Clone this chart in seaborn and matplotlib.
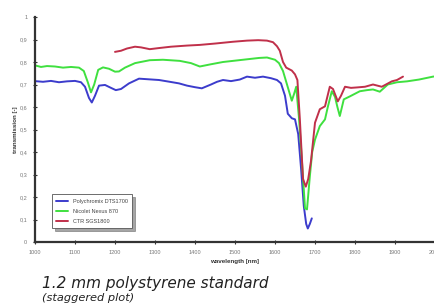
import numpy as np
import pandas as pd
import seaborn as sns
import matplotlib
matplotlib.use('Agg')
import matplotlib.pyplot as plt

# Polychromix DTS1700
blue_wl = [1000, 1020, 1040, 1060, 1080, 1100, 1115, 1125, 1135, 1142, 1150, 1160, 1175, 1190,
           1202, 1215, 1235, 1260, 1285, 1310, 1337, 1360, 1380, 1400, 1417, 1440, 1455, 1470,
           1490, 1512, 1530, 1550, 1570, 1590, 1605, 1615, 1625, 1632, 1642, 1650, 1658, 1665,
           1672, 1678, 1682, 1687, 1692]
blue_tr = [0.715, 0.712, 0.716, 0.710, 0.714, 0.716, 0.710, 0.690, 0.640, 0.620, 0.650, 0.695,
           0.698, 0.685, 0.675, 0.680, 0.705, 0.726, 0.723, 0.720, 0.712, 0.705, 0.695, 0.688,
           0.683, 0.700, 0.712, 0.720, 0.715, 0.722, 0.735, 0.730, 0.735, 0.728, 0.720, 0.705,
           0.650, 0.570, 0.550, 0.545, 0.480, 0.330, 0.160, 0.080, 0.060, 0.080, 0.105]

# Nicolet Nexus 870
green_wl = [1000, 1015, 1030, 1050, 1070, 1090, 1110, 1122, 1132, 1140, 1148, 1158, 1170, 1185,
            1200, 1210, 1225, 1250, 1287, 1320, 1362, 1390, 1412, 1440, 1470, 1495, 1530, 1560,
            1580, 1600, 1610, 1620, 1630, 1642, 1648, 1653, 1660, 1667, 1675, 1680, 1687, 1693,
            1700, 1712, 1725, 1732, 1742, 1750, 1756, 1762, 1772, 1787, 1812, 1830, 1845, 1862,
            1882, 1905, 1930, 1960, 1995, 2010]
green_tr = [0.785, 0.778, 0.782, 0.780, 0.775, 0.778, 0.775, 0.760, 0.710, 0.665, 0.700, 0.765,
            0.776, 0.770, 0.757, 0.758, 0.775, 0.795, 0.808, 0.810, 0.805, 0.795, 0.780, 0.790,
            0.800, 0.805, 0.812, 0.818, 0.820, 0.810, 0.795, 0.760, 0.700, 0.628, 0.660, 0.690,
            0.550, 0.370, 0.150, 0.145, 0.290, 0.400, 0.455, 0.515, 0.545, 0.600, 0.670, 0.645,
            0.600, 0.560, 0.634, 0.647, 0.670, 0.675, 0.678, 0.668, 0.700, 0.710, 0.714, 0.722,
            0.735, 0.738]

# CTR SGS1800
red_wl = [1200, 1215, 1230, 1250, 1265, 1287, 1310, 1340, 1380, 1412, 1450, 1495, 1530, 1558,
          1580, 1595, 1605, 1612, 1620, 1628, 1642, 1650, 1656, 1662, 1670, 1677, 1683, 1690,
          1700, 1712, 1725, 1737, 1745, 1757, 1765, 1775, 1790, 1805, 1825, 1845, 1867, 1892,
          1905, 1920]
red_tr = [0.845, 0.850, 0.860, 0.868, 0.865, 0.857, 0.862, 0.868, 0.873, 0.876, 0.882, 0.890,
          0.895, 0.897, 0.895, 0.888, 0.870, 0.850, 0.800, 0.775, 0.762, 0.745, 0.720, 0.550,
          0.280, 0.246, 0.280, 0.360, 0.530, 0.590, 0.603, 0.690, 0.680, 0.625, 0.650, 0.690,
          0.685, 0.687, 0.690, 0.700, 0.690, 0.714, 0.720, 0.735]

names = ['Polychromix DTS1700', 'Nicolet Nexus 870', 'CTR SGS1800']
colors = ['#3c3ccc', '#3fe03f', '#c0304a']

df = pd.concat([
    pd.DataFrame({'wavelength': blue_wl, 'transmission': blue_tr, 'device': names[0]}),
    pd.DataFrame({'wavelength': green_wl, 'transmission': green_tr, 'device': names[1]}),
    pd.DataFrame({'wavelength': red_wl, 'transmission': red_tr, 'device': names[2]}),
])

sns.set_style('ticks')
plt.rcParams['font.family'] = ['Liberation Sans', 'DejaVu Sans']

fig = plt.figure(figsize=(4.35, 3.08), dpi=100)
ax = fig.add_axes([35/435, 66/308, 400/435, 225/308])
sns.lineplot(data=df, x='wavelength', y='transmission', hue='device',
             palette=dict(zip(names, colors)), linewidth=1.4, sort=False,
             estimator=None, ax=ax)

ax.set_xlim(1000, 2000)
ax.set_ylim(0, 1)
xt = np.arange(1000, 2001, 100)
ax.set_xticks(xt)
ax.set_xticklabels([str(v) for v in xt], fontsize=4, color='#777777')
yt = np.round(np.arange(0, 1.01, 0.1), 1)
ax.set_yticks(yt)
ax.set_yticklabels(['0' if v == 0 else '1' if v == 1 else f'{v:.1f}'.replace('.', ',') for v in yt],
                   fontsize=4, color='#777777')
ax.tick_params(direction='inout', length=3, width=0.8, color='#333333', pad=4)
for s in ['top', 'right']:
    ax.spines[s].set_visible(False)
for s in ['left', 'bottom']:
    ax.spines[s].set_linewidth(1.6)
    ax.spines[s].set_color('#333333')

ax.set_xlabel('wavelength [nm]', fontsize=4.5, fontweight='bold', color='#333333', labelpad=3)
ax.set_ylabel('transmission [-]', fontsize=4.5, fontweight='bold', color='#333333', labelpad=1)

leg = ax.legend(loc='lower left', bbox_to_anchor=(0.035, 0.05), fontsize=4, frameon=True,
                fancybox=False, shadow=True, handlelength=2.2, borderpad=0.8, labelspacing=0.9)
leg.get_frame().set_edgecolor('#555555')
leg.get_frame().set_linewidth(0.6)
for t in leg.get_texts():
    t.set_color('#444444')

fig.text(42/435, 1 - 288/308, '1.2 mm polystyrene standard', fontsize=11, style='italic',
         family='DejaVu Sans', color='#222222', va='baseline')
fig.text(42/435, 1 - 301/308, '(staggered plot)', fontsize=8.2, style='italic',
         family='DejaVu Sans', color='#222222', va='baseline')

fig.savefig('out.png', dpi=100)
